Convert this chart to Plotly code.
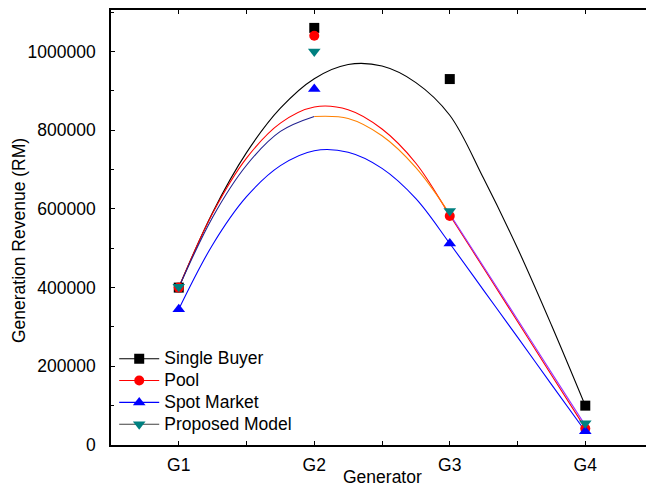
import plotly.graph_objects as go

# ---------------- data ----------------
generators = ["G1", "G2", "G3", "G4"]
single_buyer = [400000, 1060000, 930000, 100000]
pool = [400000, 1040000, 582000, 42000]
spot_market = [345000, 905000, 512000, 35000]
proposed_model = [402000, 1000000, 595000, 55000]

curve_x = [1.0, 1.25, 1.5, 1.75, 2.0, 2.25, 2.5, 2.75, 3.0, 3.25, 3.5, 3.75, 4.0]
single_buyer_curve = [400000, 591000, 743000, 856000, 931000, 967000, 963000, 921000, 838000, 677000, 500000, 305000, 100000]
pool_curve = [400000, 589000, 729000, 818000, 859000, 852000, 803000, 716000, 584000, 449000, 314000, 178000, 43000]
spot_market_curve = [345000, 509000, 631000, 710000, 748000, 744000, 703000, 626000, 512000, 393000, 274000, 154000, 35000]
proposed_model_curve = [400000, 579000, 711000, 797000, 835000, 830000, 786000, 705000, 587000, 453000, 319000, 184000, 50000]

y_ticks = [0, 200000, 400000, 600000, 800000, 1000000]

# ---------------- figure ----------------
gen_x = list(range(1, len(generators) + 1))
FONT = "Arial, 'Liberation Sans', sans-serif"

fig = go.Figure()

def curve(x, y, color, w=1.1):
    fig.add_trace(go.Scatter(x=x, y=y, mode="lines", showlegend=False, hoverinfo="skip",
                             line=dict(color=color, width=w, shape="spline", smoothing=1.0)))

curve(curve_x, single_buyer_curve, "#000000")
curve(curve_x, pool_curve, "#ff0000")
curve(curve_x, spot_market_curve, "#0000ff")
curve(curve_x[0:5], proposed_model_curve[0:5], "#202090")
curve(curve_x[4:9], proposed_model_curve[4:9], "#ff8000")
curve(curve_x[8:13], proposed_model_curve[8:13], "#9933ff")

series = [
    ("Single Buyer", single_buyer, "square", "#000000", "#000000", 10),
    ("Pool", pool, "circle", "#ff0000", "#ff0000", 10),
    ("Spot Market", spot_market, "triangle-up", "#0000ff", "#0000ff", 11),
    ("Proposed Model", proposed_model, "triangle-down", "#008080", "#404040", 11),
]

for name, vals, sym, mcol, lcol, size in series:
    fig.add_trace(go.Scatter(x=gen_x, y=vals, mode="markers", showlegend=False,
                             marker=dict(symbol=sym, color=mcol, size=size, line=dict(width=0))))

for name, vals, sym, mcol, lcol, size in series:
    fig.add_trace(go.Scatter(x=[None], y=[None], mode="lines+markers",
                             name='<span style="font-size:17.5px">' + name + '</span>',
                             line=dict(color=lcol, width=1.1),
                             marker=dict(symbol=sym, color=mcol, size=size, line=dict(width=0))))

tickvals_x = [0.5 + 0.5 * i for i in range(0, 2 * len(generators) + 1)]
ticktext_x = [generators[int(v) - 1] if float(v).is_integer() and 1 <= v <= len(generators) else "" for v in tickvals_x]

fig.update_layout(
    width=646, height=488,
    margin=dict(l=111, r=0, t=10, b=43),
    paper_bgcolor="white", plot_bgcolor="white",
    font=dict(family=FONT, size=17, color="black"),
    showlegend=True,
    legend=dict(x=0.006, y=0.235, xanchor="left", yanchor="top",
                bgcolor="rgba(0,0,0,0)", borderwidth=0,
                font=dict(family=FONT, size=14.5), itemwidth=40, tracegroupgap=0),
    xaxis=dict(range=[0.5, 4.448], tickvals=tickvals_x, ticktext=ticktext_x,
               ticks="inside", ticklen=4, tickwidth=1, tickcolor="black",
               showline=True, linecolor="black", linewidth=1.5, mirror="ticks",
               showgrid=False, zeroline=False, ticklabelstandoff=3,
               tickfont=dict(size=17.5)),
    yaxis=dict(range=[0, 1105500], tickvals=y_ticks, tickformat="d",
               ticks="inside", ticklen=4, tickwidth=1, tickcolor="black",
               minor=dict(ticks="inside", dtick=100000, ticklen=3, tickcolor="black"),
               showline=True, linecolor="black", linewidth=1.5, mirror=False,
               showgrid=False, zeroline=False, ticklabelstandoff=10,
               tickfont=dict(size=17.5)),
    annotations=[
        dict(text="Generator", x=2.5, xref="x", y=-0.0736, yref="paper",
             xanchor="center", yanchor="middle", showarrow=False,
             font=dict(family=FONT, size=17.5)),
        dict(text="Generation Revenue (RM)", x=-0.172, xref="paper", y=0.471, yref="paper",
             xanchor="center", yanchor="middle", textangle=-90, showarrow=False,
             font=dict(family=FONT, size=17.5)),
    ],
)

fig.write_html("out.html")
